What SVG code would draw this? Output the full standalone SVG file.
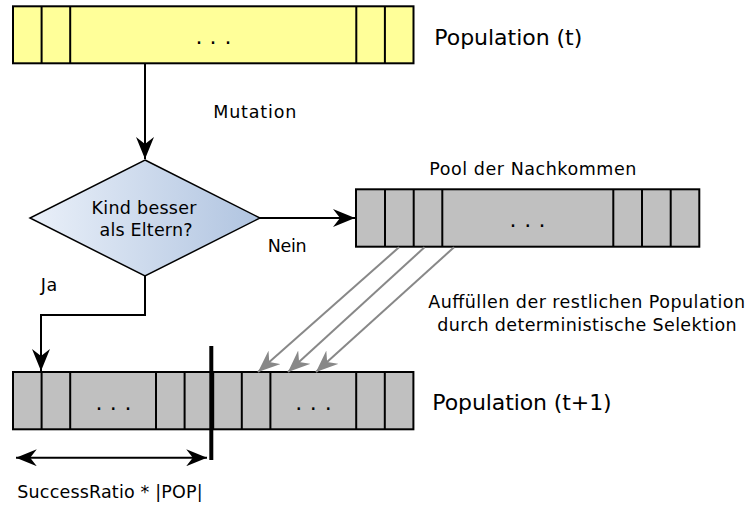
<svg xmlns="http://www.w3.org/2000/svg" width="751" height="506" viewBox="0 0 751 506">
<style>
.bar{stroke:#000;stroke-width:2}
.yel{fill:#ffff99}
.gry{fill:#c0c0c0}
.div{stroke:#000;stroke-width:2}
.t{font-family:"DejaVu Sans","Liberation Sans",sans-serif;font-size:17.5px;fill:#000}
.big{font-size:22px}
.dots{font-family:"DejaVu Sans",sans-serif;font-size:22px;fill:#000}
.con{fill:none;stroke:#000;stroke-width:2}
.gcon{fill:none;stroke:#888;stroke-width:2}
</style>
<defs>
<linearGradient id="dg" x1="0" y1="0" x2="1" y2="0">
<stop offset="0" stop-color="#eaf0f9"/>
<stop offset="1" stop-color="#b0c4e0"/>
</linearGradient>
<marker id="ah" viewBox="-22 -9 22 18" refX="0" refY="0" markerWidth="22" markerHeight="18" markerUnits="userSpaceOnUse" orient="auto">
<path d="M0,0 L-22,-9 L-15,0 L-22,9 Z" fill="#000"/>
</marker>
<marker id="ahg" viewBox="-22 -9 22 18" refX="0" refY="0" markerWidth="22" markerHeight="18" markerUnits="userSpaceOnUse" orient="auto">
<path d="M0,0 L-22,-9 L-15,0 L-22,9 Z" fill="#888"/>
</marker>
<marker id="ahs" viewBox="-22 -9 22 18" refX="0" refY="0" markerWidth="24" markerHeight="17" markerUnits="userSpaceOnUse" orient="auto-start-reverse">
<path d="M0,0 L-22,-9 L-15,0 L-22,9 Z" fill="#000"/>
</marker>
</defs>

<g id="pop-t">
<rect class="bar yel" x="13" y="6.3" width="400.5" height="57"/>
<path class="div" d="M41.6,6.3V63.3M70.2,6.3V63.3M356.3,6.3V63.3M384.9,6.3V63.3"/>
<text class="dots" x="195.5 202 209.5 217 224.5" y="43.8">. . .</text>
</g>
<text class="t big" x="434.3" y="45" textLength="148" lengthAdjust="spacing">Population (t)</text>

<g id="decision">
<path d="M145,160 L260,218 L145,276 L30,218 Z" fill="url(#dg)" stroke="#000" stroke-width="1.5"/>
<text class="t" x="144" y="214" text-anchor="middle" textLength="105" lengthAdjust="spacing">Kind besser</text>
<text class="t" x="146" y="236" text-anchor="middle" textLength="93" lengthAdjust="spacing">als Eltern?</text>
</g>

<g id="pool">
<rect class="bar gry" x="356" y="189.3" width="343.3" height="57.4"/>
<path class="div" d="M385,189.3V246.7M413.7,189.3V246.7M442.3,189.3V246.7M613.3,189.3V246.7M642,189.3V246.7M670.7,189.3V246.7"/>
<text class="dots" x="509.5 516 524.2 531 538.5" y="226.5">. . .</text>
</g>
<text class="t" x="429.3" y="175" textLength="207" lengthAdjust="spacing">Pool der Nachkommen</text>

<g id="pop-t1">
<rect class="bar gry" x="13" y="372" width="400.4" height="57.3"/>
<path class="div" d="M41.6,372V429.3M70.2,372V429.3M156,372V429.3M184.6,372V429.3M213.2,372V429.3M241.8,372V429.3M270.4,372V429.3M356.2,372V429.3M384.8,372V429.3"/>
<text class="dots" x="95.5 102 109.8 117 124.5" y="409.8">. . .</text>
<text class="dots" x="295.2 302 309.8 317 324.8" y="409.8">. . .</text>
</g>
<text class="t big" x="432.3" y="410" textLength="179.4" lengthAdjust="spacing">Population (t+1)</text>

<g id="connectors">
<path class="con" d="M145,63.3 V159" marker-end="url(#ah)"/>
<path class="con" d="M260,218 H355" marker-end="url(#ah)"/>
<path class="con" d="M145,276 V315 H41 V371" marker-end="url(#ah)"/>
<path class="gcon" d="M399,247.3 L258,372" marker-end="url(#ahg)"/>
<path class="gcon" d="M424.5,247.3 L288,372" marker-end="url(#ahg)"/>
<path class="gcon" d="M454,247.3 L316,372" marker-end="url(#ahg)"/>
<path class="con" d="M16,457.7 H207" marker-start="url(#ahs)" marker-end="url(#ahs)"/>
<line x1="211.3" y1="346" x2="211.3" y2="460" stroke="#000" stroke-width="4"/>
</g>

<text class="t" x="213.3" y="118" textLength="83" lengthAdjust="spacing">Mutation</text>
<text class="t" x="267.7" y="251.5" textLength="39" lengthAdjust="spacing">Nein</text>
<text class="t" x="40.7" y="290.7" textLength="16.6" lengthAdjust="spacing">Ja</text>
<text class="t" x="428.3" y="308.3" textLength="316.7" lengthAdjust="spacing">Auffüllen der restlichen Population</text>
<text class="t" x="437.3" y="330.7" textLength="299.4" lengthAdjust="spacing">durch deterministische Selektion</text>
<text class="t" x="17.3" y="498.3" textLength="185.4" lengthAdjust="spacing">SuccessRatio * |POP|</text>
</svg>
